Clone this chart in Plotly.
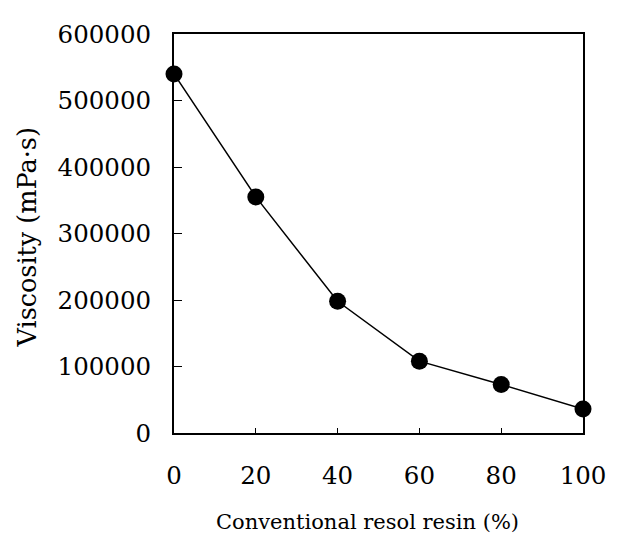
import plotly.graph_objects as go

resin_pct = [0, 20, 40, 60, 80, 100]
viscosity = [540000, 355000, 198000, 108000, 73000, 36000]
x_ticks = [0, 20, 40, 60, 80, 100]
y_ticks = [0, 100000, 200000, 300000, 400000, 500000, 600000]

FONT = "DejaVu Serif"

fig = go.Figure()
fig.add_trace(go.Scatter(
    x=resin_pct, y=viscosity, mode="lines+markers",
    line=dict(color="black", width=1.5),
    marker=dict(color="black", size=17),
    cliponaxis=False, showlegend=False,
))

# the page body adds an 8px offset, so the figure is 8px smaller on each side
fig.update_layout(
    width=610, height=529,
    margin=dict(l=166, r=25, t=15, b=104),
    paper_bgcolor="white", plot_bgcolor="white",
    font=dict(family=FONT, color="black", size=24),
    xaxis=dict(
        range=[0, 100], tickvals=x_ticks, ticktext=[str(v) for v in x_ticks],
        showgrid=False, zeroline=False, showline=True, linecolor="black", linewidth=2,
        mirror=True, ticks="inside", ticklen=5, tickcolor="black",
        tickfont=dict(family=FONT, size=24.5), ticklabelstandoff=20,
    ),
    yaxis=dict(
        range=[0, 600000], tickvals=y_ticks, ticktext=[str(v) for v in y_ticks],
        showgrid=False, zeroline=False, showline=True, linecolor="black", linewidth=2,
        mirror=True, ticks="inside", ticklen=8, tickcolor="black",
        tickfont=dict(family=FONT, size=24.5), ticklabelstandoff=16,
    ),
    annotations=[
        dict(text="Conventional resol resin (%)", xref="paper", yref="paper",
             x=0.473, y=0, yshift=-89, showarrow=False, yanchor="middle",
             font=dict(family=FONT, size=21)),
        dict(text="Viscosity (mPa·s)", xref="paper", yref="paper",
             x=0, xshift=-147, y=0.49, textangle=-90, showarrow=False,
             xanchor="center", yanchor="middle", font=dict(family=FONT, size=25.5)),
    ],
)

fig.write_html("out.html")
